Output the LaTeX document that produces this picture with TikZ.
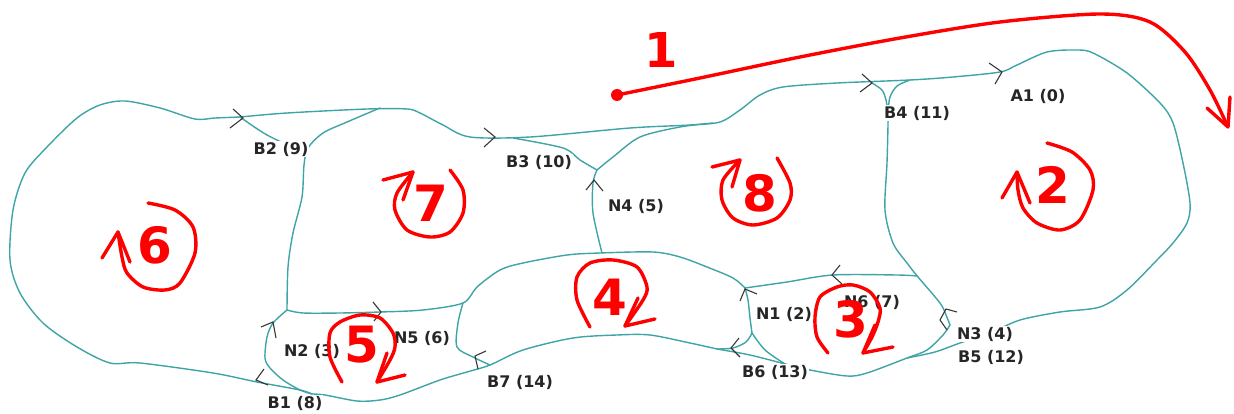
\documentclass[tikz,border=0pt]{standalone}
\usepackage{fontspec}
\setmainfont{DejaVu Sans}
\definecolor{tealline}{RGB}{62,164,166}
\definecolor{chevcol}{RGB}{55,55,55}
\definecolor{redann}{RGB}{255,0,0}
\tikzset{
  edge/.style={draw=tealline, line width=1.4pt, line join=round, line cap=round},
  chevron/.style={draw=chevcol, line width=1.1pt, line join=miter},
  lbl/.style={fill=white, inner sep=1pt, text=black!85, font=\fontsize{16}{18}\selectfont\bfseries},
  num/.style={text=redann, inner sep=0pt, font=\fontsize{50}{50}\selectfont\bfseries},
  rloop/.style={draw=redann, line width=3.4pt, line cap=round, line join=round},
}
\begin{document}
\begin{tikzpicture}[x=1pt,y=-1pt]
\useasboundingbox (0,0) rectangle (1234,414);
% ---------- teal map edges ----------
\draw[edge] plot[smooth] coordinates {(240,117) (215,118) (195,119) (160,108) (125,101) (100,105) (77,118) (47,147) (25,173) (13,210) (10,260) (20,293) (43,323) (77,347) (110,363) (140,363) (213,373) (257,382) (300,390) (312,394)};
\draw[edge] plot[smooth] coordinates {(240,117) (287,113) (367,109) (407,109) (420,113) (443,125) (470,137) (530,137) (630,128) (690,125) (720,122) (740,110) (760,95) (783,87) (837,83) (910,80) (953,77) (1000,72) (1017,65) (1047,52) (1077,50) (1093,53) (1127,73) (1160,103) (1173,123) (1183,163) (1190,203) (1187,223) (1173,243) (1157,260) (1127,290) (1100,307) (1060,312) (1020,320) (990,333) (960,343) (935,352) (907,358)};
\draw[edge] plot[smooth] coordinates {(240,117) (267,135) (303,152)};
\draw[edge] plot[smooth] coordinates {(380,108) (347,122) (323,133) (308,148) (304,165) (302,197) (293,233) (288,267) (287,310)};
\draw[edge] plot[smooth] coordinates {(287,310) (303,313) (340,313) (380,312) (423,310) (463,303) (477,287) (500,270) (523,263) (567,255) (600,253) (653,252) (680,257) (707,267) (733,278) (745,288)};
\draw[edge] plot[smooth] coordinates {(463,303) (458,323) (457,347) (473,357) (490,365)};
\draw[edge] plot[smooth] coordinates {(287,310) (273,323) (267,337) (265,358) (270,368) (283,380) (300,390) (312,394)};
\draw[edge] plot[smooth] coordinates {(312,394) (325,395) (357,401) (380,400) (400,395) (440,380) (467,372) (490,365) (523,350) (573,338) (617,335) (650,335) (690,343) (717,349)};
\draw[edge] plot[smooth] coordinates {(717,349) (733,348) (746,342) (752,333)};
\draw[edge] plot[smooth] coordinates {(717,349) (750,355) (785,364)};
\draw[edge] plot[smooth] coordinates {(752,333) (765,350) (785,364)};
\draw[edge] plot[smooth] coordinates {(745,288) (748,300) (750,318) (752,333)};
\draw[edge] plot[smooth] coordinates {(745,288) (787,282) (833,275) (897,275) (917,276)};
\draw[edge] plot[smooth] coordinates {(888,112) (888,125) (887,163) (885,210) (893,243) (907,263) (918,277) (940,303) (946,315) (950,325)};
\draw[edge] plot[smooth] coordinates {(872,83) (882,90) (886,100) (888,112)};
\draw[edge] plot[smooth] coordinates {(910,80) (897,86) (890,97) (888,112)};
\draw[edge] plot[smooth] coordinates {(950,325) (943,335) (927,350) (907,358) (867,373) (847,376) (810,370) (785,364)};
\draw[edge] plot[smooth] coordinates {(513,138) (563,148) (580,160) (597,170)};
\draw[edge] plot[smooth] coordinates {(597,170) (613,157) (640,137) (680,127) (713,123)};
\draw[edge] plot[smooth] coordinates {(597,170) (593,183) (593,213) (602,253)};
% ---------- chevrons ----------
\draw[chevron] (233,109) -- (243,118) -- (230,128);
\draw[chevron] (484,128) -- (495,137) -- (484,147);
\draw[chevron] (862,74) -- (872,83) -- (860,92);
\draw[chevron] (989,63) -- (1002,72) -- (995,84);
\draw[chevron] (586,190) -- (594,180) -- (603,191);
\draw[chevron] (840,265) -- (832,275) -- (842,284);
\draw[chevron] (740,301) -- (745,289) -- (757,294);
\draw[chevron] (739,338) -- (731,348) -- (740,357);
\draw[chevron] (957,312) -- (946,309) -- (940,320) -- (947,330);
\draw[chevron] (373,302) -- (381,312) -- (374,321);
\draw[chevron] (486,351) -- (475,356) -- (478,369);
\draw[chevron] (261,327) -- (273,322) -- (276,338);
\draw[chevron] (264,369) -- (256,380) -- (268,385);
% ---------- labels ----------
\node[lbl] (lB2) at (281,149) {B2 (9)};
\node[lbl] (lB3) at (539,162) {B3 (10)};
\node[lbl] (lN4) at (636,206) {N4 (5)};
\node[lbl] (lB4) at (917,113) {B4 (11)};
\node[lbl] (lA1) at (1038,96) {A1 (0)};
\node[lbl] (lN1) at (784,314) {N1 (2)};
\node[lbl] (lN6) at (872,302) {N6 (7)};
\node[lbl] (lN3) at (985,334) {N3 (4)};
\node[lbl] (lB5) at (991,357) {B5 (12)};
\node[lbl] (lB6) at (775,372) {B6 (13)};
\node[lbl] (lB7) at (520,382) {B7 (14)};
\node[lbl] (lN5) at (422,338) {N5 (6)};
\node[lbl] (lN2) at (312,351) {N2 (3)};
\node[lbl] (lB1) at (295,403) {B1 (8)};
% ---------- red annotations ----------
\fill[redann] (617,95) circle (6);
\draw[rloop] plot[smooth] coordinates {(617,95) (700,78) (800,57) (900,38) (1000,22) (1100,14) (1150,22) (1185,52) (1210,90) (1227,125)};
\draw[rloop] (1207,108) -- (1228,127) -- (1230,97);
\node[num, font=\fontsize{48}{48}\selectfont\bfseries] (n1) at (661,50) {1};
% 2
\node[num] (n2) at (1053,185) {2};
\draw[rloop] plot[smooth] coordinates {(1047,143) (1072,152) (1090,170) (1093,190) (1080,220) (1060,230) (1037,223) (1023,208) (1018,190) (1017,172)};
\draw[rloop] (1002,198) -- (1017,172) -- (1030,203);
% 6
\node[num] (n6) at (155,245) {6};
\draw[rloop] plot[smooth] coordinates {(148,203) (175,210) (193,227) (195,253) (180,283) (165,290) (143,287) (127,273) (122,257) (118,232)};
\draw[rloop] (102,258) -- (118,232) -- (130,262);
% 7
\node[num] (n7) at (431,203) {7};
\draw[rloop] plot[smooth] coordinates {(450,170) (463,190) (463,213) (450,232) (430,237) (407,230) (395,210) (397,193) (413,172)};
\draw[rloop] (383,180) -- (413,172) -- (403,200);
% 8
\node[num] (n8) at (760,193) {8};
\draw[rloop] plot[smooth] coordinates {(777,158) (790,183) (790,200) (777,218) (753,225) (733,218) (722,200) (723,180) (740,160)};
\draw[rloop] (712,167) -- (740,160) -- (732,187);
% 3
\node[num] (n3) at (851,319) {3};
\draw[rloop] plot[smooth] coordinates {(828,353) (817,337) (815,317) (820,297) (837,287) (853,285) (870,292) (880,308) (878,322) (872,337) (863,353)};
\draw[rloop] (893,347) -- (863,353) -- (875,325);
% 4
\node[num] (n4) at (610,297) {4};
\draw[rloop] plot[smooth] coordinates {(590,327) (577,300) (577,277) (590,263) (613,260) (637,267) (647,287) (643,300) (625,326)};
\draw[rloop] (655,319) -- (625,326) -- (638,298);
% 5
\node[num] (n5) at (362,345) {5};
\draw[rloop] plot[smooth] coordinates {(342,382) (330,357) (330,333) (340,322) (360,315) (380,318) (393,333) (395,347) (390,360) (377,382)};
\draw[rloop] (405,375) -- (377,382) -- (387,353);
\end{tikzpicture}
\end{document}
